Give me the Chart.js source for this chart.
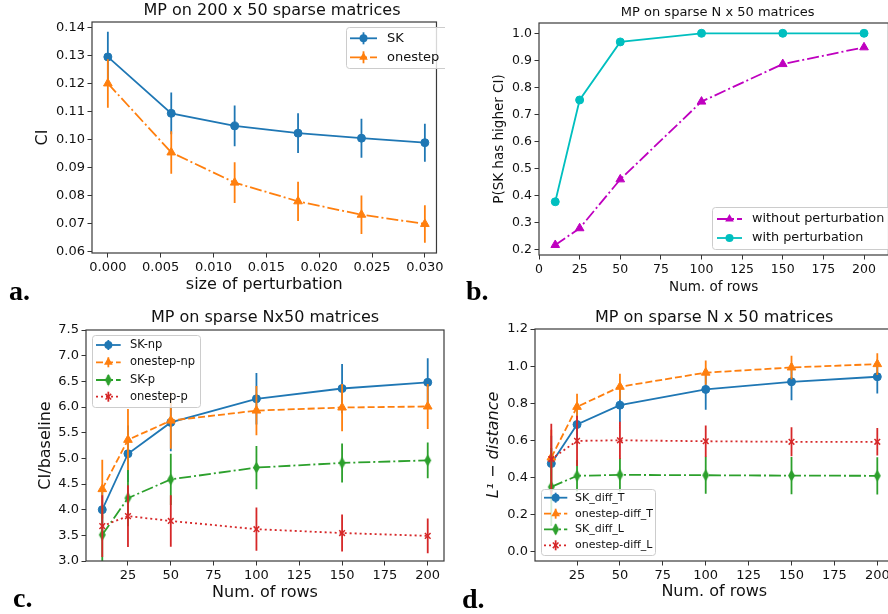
<!DOCTYPE html>
<html>
<head>
<meta charset="utf-8">
<script src="https://cdn.jsdelivr.net/npm/chart.js@4.4.1/dist/chart.umd.min.js"></script>
<style>
  html, body { margin: 0; padding: 0; background: #fff; overflow: hidden; }
  .panel { position: absolute; overflow: hidden; }
  #pa { left: 0; top: 0; width: 445px; height: 307px; }
  #pb { left: 445px; top: 0; width: 443px; height: 307px; }
  #pc { left: 0; top: 307px; width: 445px; height: 307px; }
  #pd { left: 445px; top: 307px; width: 443px; height: 307px; }
  canvas { position: absolute; left: 0; top: 0; }
</style>
</head>
<body>
<div class="panel" id="pa"><canvas id="chartA" width="446" height="307"></canvas></div>
<div class="panel" id="pb"><canvas id="chartB" width="445" height="307"></canvas></div>
<div class="panel" id="pc"><canvas id="chartC" width="445" height="307"></canvas></div>
<div class="panel" id="pd"><canvas id="chartD" width="450" height="307"></canvas></div>
<script>
// a. CI against size of perturbation
const perturb = [0, 0.006, 0.012, 0.018, 0.024, 0.030];
const aSK = [0.1296, 0.1094, 0.1049, 0.1023, 0.1005, 0.0989];
const aSKErr = [0.0090, 0.0075, 0.0073, 0.0071, 0.0070, 0.0068];
const aOnestep = [0.1201, 0.0954, 0.0846, 0.0779, 0.0731, 0.0698];
const aOnestepErr = [0.0087, 0.0076, 0.0073, 0.0070, 0.0069, 0.0067];

// b, c, d share the number of rows
const rows = [10, 25, 50, 100, 150, 200];

// b. P(SK has higher CI)
const bWithout = [0.216, 0.278, 0.459, 0.747, 0.886, 0.948];
const bWith = [0.376, 0.753, 0.968, 1.0, 1.0, 1.0];

// c. CI/baseline
const cSKnp = [4.00, 5.09, 5.70, 6.16, 6.36, 6.48];
const cSKnpErr = [0.45, 0.55, 0.56, 0.50, 0.48, 0.47];
const cOnestepNp = [4.40, 5.36, 5.735, 5.93, 5.99, 6.01];
const cOnestepNpErr = [0.57, 0.60, 0.55, 0.48, 0.46, 0.44];
const cSKp = [3.51, 4.225, 4.59, 4.82, 4.91, 4.96];
const cSKpErr = [0.55, 0.55, 0.50, 0.42, 0.38, 0.35];
const cOnestepP = [3.68, 3.875, 3.78, 3.62, 3.545, 3.49];
const cOnestepPErr = [0.60, 0.60, 0.50, 0.42, 0.36, 0.34];

// d. L1 distance
const dSKT = [0.476, 0.686, 0.790, 0.875, 0.916, 0.943];
const dSKTErr = [0.15, 0.10, 0.09, 0.11, 0.10, 0.09];
const dOnestepT = [0.508, 0.781, 0.889, 0.965, 0.993, 1.011];
const dOnestepTErr = [0.15, 0.07, 0.07, 0.065, 0.063, 0.058];
const dSKL = [0.350, 0.410, 0.415, 0.413, 0.411, 0.410];
const dSKLErr = [0.21, 0.085, 0.09, 0.10, 0.10, 0.10];
const dOnestepL = [0.500, 0.598, 0.601, 0.596, 0.593, 0.593];
const dOnestepLErr = [0.19, 0.135, 0.10, 0.085, 0.078, 0.074];

const FONT = "'DejaVu Sans', sans-serif";
const blue = "#1f77b4", orange = "#ff7f0e", green = "#2ca02c", red = "#d62728";
const cyan = "#00bfbf", magenta = "#bf00bf";
const DASH = [7, 3], DASHDOT = [12, 3, 2, 3], DOT = [2, 3];

// matplotlib 'd' marker (thin diamond)
function thinDiamond(color) {
  const c = document.createElement("canvas");
  c.width = 9; c.height = 13;
  const g = c.getContext("2d");
  g.fillStyle = color;
  g.beginPath();
  g.moveTo(4.5, 0.5); g.lineTo(8, 6.5); g.lineTo(4.5, 12.5); g.lineTo(1, 6.5);
  g.closePath(); g.fill();
  return c;
}

function series(label, xs, ys, err, color, dash, style, order) {
  const r = style === "triangle" ? 5 : 4;
  return {
    label,
    data: xs.map((x, i) => ({ x, y: ys[i] })),
    err,
    order,
    borderColor: color,
    backgroundColor: color,
    borderWidth: 1.8,
    borderDash: dash,
    pointStyle: style === "diamond" ? thinDiamond(color) : style,
    pointRadius: r,
    pointBorderWidth: style === "crossRot" ? 1.5 : 1,
    pointBackgroundColor: color,
    pointBorderColor: color,
    tension: 0
  };
}

function axis(o) {
  return {
    type: "linear",
    min: o.min,
    max: o.max,
    afterFit: s => {
      if (o.w !== undefined) s.width = o.w;
      if (o.h !== undefined) s.height = o.h;
    },
    ticks: {
      stepSize: o.step,
      includeBounds: false,
      autoSkip: false,
      maxRotation: 0,
      padding: 2.5,
      color: "#111",
      font: { family: FONT, size: o.fs },
      callback: v => v.toFixed(o.dec)
    },
    grid: { drawOnChartArea: false, tickLength: 4.5, color: "#333", tickWidth: 1 },
    border: { display: false },
    title: {
      display: true,
      text: o.title,
      color: "#111",
      font: { family: FONT, size: o.ts, style: o.italic ? "italic" : "normal" },
      // left axis title uses padding.top, bottom axis title uses padding.bottom
      padding: { top: o.tp, bottom: o.tp }
    }
  };
}

// error bars, drawn right before each dataset
const errorBars = {
  id: "errorBars",
  beforeDatasetDraw(chart, args) {
    const ds = chart.data.datasets[args.index];
    if (!ds.err) return;
    const { ctx, chartArea: a, scales: { x, y } } = chart;
    ctx.save();
    ctx.beginPath();
    ctx.rect(a.left, a.top, a.right - a.left, a.bottom - a.top);
    ctx.clip();
    ctx.strokeStyle = ds.borderColor;
    ctx.lineWidth = ds.borderWidth;
    ctx.setLineDash([]);
    ctx.beginPath();
    ds.data.forEach((p, i) => {
      const px = x.getPixelForValue(p.x);
      ctx.moveTo(px, y.getPixelForValue(p.y - ds.err[i]));
      ctx.lineTo(px, y.getPixelForValue(p.y + ds.err[i]));
    });
    ctx.stroke();
    ctx.restore();
  }
};

function drawMarker(ctx, ds, x, y) {
  const st = ds.pointStyle, r = ds.pointRadius;
  ctx.fillStyle = ds.borderColor;
  ctx.strokeStyle = ds.borderColor;
  ctx.lineWidth = ds.pointBorderWidth;
  ctx.setLineDash([]);
  ctx.beginPath();
  if (st instanceof HTMLCanvasElement) {
    ctx.drawImage(st, x - st.width / 2, y - st.height / 2);
    return;
  }
  if (st === "circle") {
    ctx.arc(x, y, r, 0, Math.PI * 2);
    ctx.fill();
  } else if (st === "triangle") {
    for (let k = 0; k < 3; k++) {
      const t = k * 2 * Math.PI / 3;
      const px = x + Math.sin(t) * r, py = y - Math.cos(t) * r;
      k ? ctx.lineTo(px, py) : ctx.moveTo(px, py);
    }
    ctx.closePath();
    ctx.fill();
  } else if (st === "crossRot") {
    const d = r * Math.SQRT1_2;
    ctx.moveTo(x - d, y - d); ctx.lineTo(x + d, y + d);
    ctx.moveTo(x + d, y - d); ctx.lineTo(x - d, y + d);
    ctx.stroke();
  }
}

// frame, title, panel letter and legend
const deco = {
  id: "deco",
  afterDatasetsDraw(chart, args, o) {
    const { ctx, chartArea: a } = chart;
    ctx.save();
    ctx.strokeStyle = "#3a3a3a";
    ctx.lineWidth = 1.2;
    ctx.setLineDash([]);
    ctx.strokeRect(a.left, a.top, a.right - a.left, a.bottom - a.top);

    const L = o.legend;
    ctx.fillStyle = "rgba(255,255,255,0.8)";
    ctx.strokeStyle = "#cccccc";
    ctx.lineWidth = 1;
    ctx.beginPath();
    ctx.roundRect(L.x + 0.5, L.y + 0.5, L.w, L.h, 3);
    ctx.fill();
    ctx.stroke();
    chart.data.datasets.forEach((ds, i) => {
      const y = L.rows[i], mid = L.sx + L.sw / 2;
      ctx.strokeStyle = ds.borderColor;
      ctx.lineWidth = ds.borderWidth;
      ctx.setLineDash(ds.borderDash || []);
      ctx.beginPath();
      ctx.moveTo(L.sx, y);
      ctx.lineTo(L.sx + L.sw, y);
      ctx.stroke();
      if (ds.err) {
        ctx.setLineDash([]);
        ctx.beginPath();
        ctx.moveTo(mid, y - L.eb);
        ctx.lineTo(mid, y + L.eb);
        ctx.stroke();
      }
      drawMarker(ctx, ds, mid, y);
      ctx.fillStyle = "#111";
      ctx.font = L.fs + "px " + FONT;
      ctx.textAlign = "left";
      ctx.textBaseline = "middle";
      ctx.fillText(ds.label, L.tx, y);
    });

    ctx.fillStyle = "#111";
    ctx.textAlign = "center";
    ctx.textBaseline = "alphabetic";
    ctx.font = o.title.fs + "px " + FONT;
    ctx.fillText(o.title.text, o.title.x, o.title.y);

    ctx.fillStyle = "#000";
    ctx.textAlign = "left";
    ctx.font = "bold 28px 'Liberation Serif', 'DejaVu Serif', serif";
    ctx.fillText(o.letter.text, o.letter.x, o.letter.y);
    ctx.restore();
  }
};

function makeChart(id, datasets, xAxis, yAxis, pad, decoOpts) {
  return new Chart(document.getElementById(id), {
    type: "line",
    data: { datasets },
    options: {
      responsive: false,
      animation: false,
      devicePixelRatio: 1,
      layout: { autoPadding: false, padding: pad },
      scales: { x: xAxis, y: yAxis },
      plugins: {
        legend: { display: false },
        tooltip: { enabled: false },
        deco: decoOpts
      }
    },
    plugins: [errorBars, deco]
  });
}

// a.
makeChart("chartA", [
    series("SK", perturb, aSK, aSKErr, blue, [], "circle", 2),
    series("onestep", perturb, aOnestep, aOnestepErr, orange, DASHDOT, "triangle", 1)
  ],
  axis({ min: -0.0015, max: 0.0311, step: 0.005, dec: 3, fs: 13, title: "size of perturbation", ts: 16, tp: 12.5, h: 54 }),
  axis({ min: 0.0594, max: 0.1421, step: 0.01, dec: 2, fs: 13, title: "CI", ts: 16, tp: 33.4, w: 92 }),
  { left: 0, top: 22, right: 1, bottom: 0 },
  {
    title: { text: "MP on 200 x 50 sparse matrices", x: 272, y: 15, fs: 16 },
    letter: { text: "a.", x: 9, y: 300 },
    legend: { x: 346, y: 27, w: 110, h: 41, rows: [38.3, 57.3], sx: 350, sw: 27, tx: 387, fs: 13, eb: 6 }
  });

// b.
makeChart("chartB", [
    series("without perturbation", rows, bWithout, null, magenta, DASHDOT, "triangle", 2),
    series("with perturbation", rows, bWith, null, cyan, [], "circle", 1)
  ],
  axis({ min: 0, max: 215, step: 25, dec: 0, fs: 12.5, title: "Num. of rows", ts: 13.5, tp: 11.2, h: 52 }),
  axis({ min: 0.1789, max: 1.0381, step: 0.1, dec: 1, fs: 12.5, title: "P(SK has higher CI)", ts: 13.5, tp: 45.9, w: 94 }),
  { left: 0, top: 23, right: 1.6, bottom: 0 },
  {
    title: { text: "MP on sparse N x 50 matrices", x: 272.7, y: 15.8, fs: 13 },
    letter: { text: "b.", x: 21, y: 300 },
    legend: { x: 267, y: 207, w: 190, h: 42, rows: [219, 238], sx: 272, sw: 25, tx: 307, fs: 12.8, eb: 0 }
  });

// c.
makeChart("chartC", [
    series("SK-np", rows, cSKnp, cSKnpErr, blue, [], "circle", 4),
    series("onestep-np", rows, cOnestepNp, cOnestepNpErr, orange, DASH, "triangle", 3),
    series("SK-p", rows, cSKp, cSKpErr, green, DASHDOT, "diamond", 2),
    series("onestep-p", rows, cOnestepP, cOnestepPErr, red, DOT, "crossRot", 1)
  ],
  axis({ min: 0.5, max: 209.5, step: 25, dec: 0, fs: 13, title: "Num. of rows", ts: 16, tp: 11.7, h: 53 }),
  axis({ min: 3.0, max: 7.5, step: 0.5, dec: 1, fs: 13, title: "CI/baseline", ts: 16, tp: 36.4, w: 86 }),
  { left: 0, top: 23, right: 1, bottom: 0 },
  {
    title: { text: "MP on sparse Nx50 matrices", x: 265, y: 15, fs: 16 },
    letter: { text: "c.", x: 13, y: 300 },
    legend: { x: 92, y: 28, w: 108, h: 72, rows: [38, 55.3, 73, 89.7], sx: 96, sw: 24.7, tx: 130, fs: 11.5, eb: 5 }
  });

// d.
makeChart("chartD", [
    series("SK_diff_T", rows, dSKT, dSKTErr, blue, [], "circle", 4),
    series("onestep-diff_T", rows, dOnestepT, dOnestepTErr, orange, DASH, "triangle", 3),
    series("SK_diff_L", rows, dSKL, dSKLErr, green, DASHDOT, "diamond", 2),
    series("onestep-diff_L", rows, dOnestepL, dOnestepLErr, red, DOT, "crossRot", 1)
  ],
  axis({ min: 0.5, max: 209.5, step: 25, dec: 0, fs: 13, title: "Num. of rows", ts: 16, tp: 13, h: 53 }),
  axis({ min: -0.0485, max: 1.2, step: 0.2, dec: 1, fs: 13, title: "L\u00b9 \u2212 distance", ts: 16, tp: 39.4, w: 90, italic: true }),
  { left: 0, top: 22, right: 1.4, bottom: 0 },
  {
    title: { text: "MP on sparse N x 50 matrices", x: 269.2, y: 15, fs: 16 },
    letter: { text: "d.", x: 17, y: 301 },
    legend: { x: 96, y: 182, w: 114, h: 66, rows: [190.7, 206.7, 222.3, 238.3], sx: 99, sw: 23.3, tx: 130, fs: 11, eb: 5 }
  });
</script>
</body>
</html>
